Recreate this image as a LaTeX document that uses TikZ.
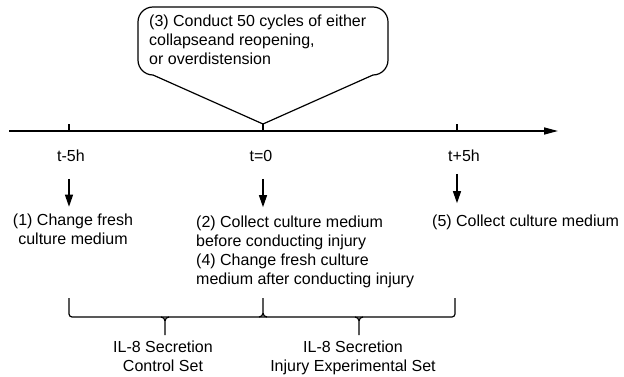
\documentclass[tikz,border=0pt]{standalone}
\usepackage{fontspec}
\setmainfont{Liberation Sans}
\usetikzlibrary{arrows.meta}

\begin{document}
\begin{tikzpicture}[x=1pt,y=-1pt,
  every node/.style={font=\fontsize{16}{19}\selectfont, inner sep=0pt},
  timeline/.style={line width=1.5pt, -{Triangle[length=14pt,width=7pt]}},
  steparrow/.style={line width=1.2pt, -{Triangle[length=12pt,width=8pt]}},
  outline/.style={line width=1.2pt}]
\useasboundingbox (0,0) rectangle (624,377);
% time axis and ticks
\coordinate (start) at (9,131);
\coordinate (stop) at (558,131);
\coordinate (m5) at (69,131);
\coordinate (t0) at (263,131);
\coordinate (p5) at (457,131);
\draw[timeline] (start) -- (stop);
\foreach \t in {m5,t0,p5} \draw[outline] (\t) -- ++(0,-7);
\node[anchor=base] (lm5) at (71,161) {t-5h};
\node[anchor=base] (lt0) at (261,161) {t=0};
\node[anchor=base] (lp5) at (464,161) {t+5h};
% callout for the injury step
\coordinate (tip) at (263,124);
\draw[outline] (tip) -- (153,75) arc[start angle=270,end angle=180,radius=15pt]
  -- (138,22) arc[start angle=180,end angle=90,radius=15pt]
  -- (373,7) arc[start angle=90,end angle=0,radius=15pt]
  -- (388,60) arc[start angle=0,end angle=-90,radius=15pt] -- cycle;
\node[anchor=base west, align=left] (cycles) at (149,65)
  {(3) Conduct 50 cycles of either\\collapseand reopening,\\or overdistension};
% steps at each time point
\node[anchor=base, align=center] (act1) at (73,244) {(1) Change fresh\\culture medium};
\node[anchor=base west, align=left] (act2) at (196,284)
  {(2) Collect culture medium\\before conducting injury\\(4) Change fresh culture\\medium after conducting injury};
\node[anchor=base west] (act5) at (432,226) {(5) Collect culture medium};
\coordinate (a1) at (69,179);
\coordinate (a2) at (263,179);
\coordinate (a5) at (457,174);
\draw[steparrow, shorten >=6.5pt] (a1) -- (act1.north -| a1);
\draw[steparrow, shorten >=8pt] (a2) -- (act2.north -| a2);
\draw[steparrow, shorten >=11pt] (a5) -- (act5.north -| a5);
% braces for the two sets
\draw[outline, rounded corners=3pt] (69,298) -- (69,317) -- (455,317) -- (455,298);
\draw[outline] (263,298) -- (263,313) (259,317) to[out=0,in=-90] (263,313) to[out=-90,in=180] (267,317);
\draw[outline] (161,317) to[out=0,in=90] (165,321) -- (165,335) (169,317) to[out=180,in=90] (165,321);
\draw[outline] (355,317) to[out=0,in=90] (359,321) -- (359,335) (363,317) to[out=180,in=90] (359,321);
\node[anchor=base, align=center] (ctrlset) at (163,371) {IL-8 Secretion\\Control Set};
\node[anchor=base, align=center] (injset) at (353,371) {IL-8 Secretion\\Injury Experimental Set};
\end{tikzpicture}
\end{document}
